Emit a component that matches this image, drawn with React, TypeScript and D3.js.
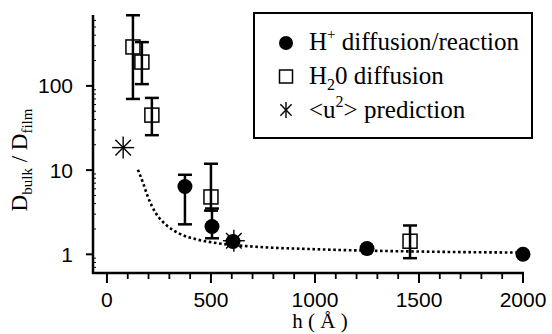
import React from "react";
import * as d3 from "d3";

// H2O diffusion (open squares)
const h2oH = [125, 168, 216, 500, 1457];
const h2oD = [290, 192, 45, 4.8, 1.43];
const h2oLo = [70, 105, 26, 3.3, 0.9];
const h2oHi = [690, 331, 72, 11.9, 2.2];

// H+ diffusion/reaction (filled circles)
const hpH = [375, 505, 606, 1250, 2000];
const hpD = [6.4, 2.14, 1.42, 1.17, 1.0];
const hpLo = [2.27, 1.55, 1.42, 1.17, 1.0];
const hpHi = [8.8, 3.5, 1.42, 1.17, 1.0];

// <u^2> prediction (stars)
const starH = [78, 610];
const starD = [18.5, 1.45];

// dotted prediction curve
const curveH = [149, 173, 197, 231, 288, 351, 433, 510, 591, 673, 736, 1000, 1216, 1490, 1750, 1971];
const curveD = [10.1, 7.1, 4.8, 3.2, 2.2, 1.75, 1.5, 1.38, 1.3, 1.25, 1.22, 1.15, 1.11, 1.08, 1.06, 1.05];

const xMajor = [0, 500, 1000, 1500, 2000];
const yMajor = [1, 10, 100];
const yMajorLabels = ["1", "10", "100"];

const W = 552, H = 334;

export default function App() {
  const x = d3.scaleLinear().domain([-67, 2000]).range([93, 523]);
  const y = d3.scaleLog().domain([0.6, 695]).range([273, 15]);

  const xMinor = d3.range(0, 2001, 100).filter((v) => v % 500 !== 0);
  const yMinor: number[] = [];
  [0.1, 1, 10, 100].forEach((dec) => {
    for (let k = 2; k <= 9; k++) {
      const v = dec * k;
      if (v >= 0.6 && v <= 695) yMinor.push(v);
    }
  });

  const line = d3
    .line<number>()
    .x((_, i) => x(curveH[i]))
    .y((d) => y(d))
    .curve(d3.curveMonotoneX);

  const serif = "'Liberation Serif', 'Times New Roman', serif";
  const sans = "'Liberation Sans', Arial, sans-serif";
  const capW = 7;

  const star = (cx: number, cy: number, r: number, key: string, angles = [0, 45, 90, 135]) => (
    <g key={key} stroke="#000" strokeWidth={1.4}>
      {angles.map((a) => {
        const rad = (a * Math.PI) / 180;
        return (
          <line
            key={a}
            x1={cx - r * Math.cos(rad)}
            y1={cy - r * Math.sin(rad)}
            x2={cx + r * Math.cos(rad)}
            y2={cy + r * Math.sin(rad)}
          />
        );
      })}
    </g>
  );

  const errBar = (xv: number, lo: number, hi: number, key: string) => {
    if (lo === hi) return null;
    const cx = x(xv);
    return (
      <g key={key} stroke="#000" strokeWidth={2.5}>
        <line x1={cx} x2={cx} y1={y(hi)} y2={y(lo)} />
        <line x1={cx - capW} x2={cx + capW} y1={y(hi)} y2={y(hi)} />
        <line x1={cx - capW} x2={cx + capW} y1={y(lo)} y2={y(lo)} />
      </g>
    );
  };

  return (
    <svg width={W} height={H} style={{ display: "block", position: "absolute", left: 0, top: 0, background: "#fff" }}>
      <rect x={0} y={0} width={W} height={H} fill="#fff" />
      {/* axes */}
      <line x1={93} x2={93} y1={y(695)} y2={274} stroke="#000" strokeWidth={2.5} />
      <line x1={92} x2={x(2000) + 1} y1={273} y2={273} stroke="#000" strokeWidth={2.5} />
      {xMajor.map((v) => (
        <g key={"xm" + v}>
          <line x1={x(v)} x2={x(v)} y1={273} y2={283} stroke="#000" strokeWidth={2} />
          <text x={x(v)} y={307} textAnchor="middle" fontFamily={sans} fontSize={21}>
            {v}
          </text>
        </g>
      ))}
      {xMinor.map((v) => (
        <line key={"xn" + v} x1={x(v)} x2={x(v)} y1={273} y2={279} stroke="#000" strokeWidth={1.8} />
      ))}
      {yMajor.map((v, i) => (
        <g key={"ym" + v}>
          <line x1={86} x2={93} y1={y(v)} y2={y(v)} stroke="#000" strokeWidth={2} />
          <text x={73} y={y(v)} dy="0.36em" textAnchor="end" fontFamily={sans} fontSize={21}>
            {yMajorLabels[i]}
          </text>
        </g>
      ))}
      {yMinor.map((v) => (
        <line key={"yn" + v} x1={93} x2={96} y1={y(v)} y2={y(v)} stroke="#000" strokeWidth={1} />
      ))}

      {/* axis labels */}
      <text x={320} y={328} textAnchor="middle" fontFamily={serif} fontSize={21}>
        h ( Å )
      </text>
      <text transform="translate(27,160) rotate(-90)" textAnchor="middle" fontFamily={serif} fontSize={23}>
        D<tspan fontSize={15} dy={5}>bulk</tspan>
        <tspan dy={-5}> / D</tspan>
        <tspan fontSize={15} dy={5}>film</tspan>
      </text>

      {/* curve */}
      <path d={line(curveD) || ""} fill="none" stroke="#000" strokeWidth={2.6} strokeDasharray="2.6 2.6" />

      {/* error bars */}
      {h2oH.map((v, i) => errBar(v, h2oLo[i], h2oHi[i], "he" + i))}
      {hpH.map((v, i) => errBar(v, hpLo[i], hpHi[i], "pe" + i))}

      {/* squares */}
      {h2oH.map((v, i) => (
        <rect
          key={"sq" + i}
          x={x(v) - 7}
          y={y(h2oD[i]) - 7}
          width={14}
          height={14}
          fill="none"
          stroke="#000"
          strokeWidth={1.5}
        />
      ))}
      {/* circles */}
      {hpH.map((v, i) => (
        <circle key={"c" + i} cx={x(v)} cy={y(hpD[i])} r={7.5} fill="#000" />
      ))}
      {/* stars */}
      {starH.map((v, i) => star(x(v), y(starD[i]), 11, "st" + i))}

      {/* legend */}
      <rect x={254} y={13} width={278} height={125} fill="#fff" stroke="#000" strokeWidth={2} />
      <circle cx={286} cy={43} r={7} fill="#000" />
      <rect x={279.5} y={70} width={13} height={13} fill="none" stroke="#000" strokeWidth={1.5} />
      {star(286, 110, 8, "lgst", [45, 90, 135])}
      <text x={309} y={50} fontFamily={serif} fontSize={25}>
        H<tspan fontSize={15} dy={-11}>+</tspan>
        <tspan dy={11}> diffusion/reaction</tspan>
      </text>
      <text x={309} y={84} fontFamily={serif} fontSize={25}>
        H<tspan fontSize={16} dy={6}>2</tspan>
        <tspan dy={-6}>0 diffusion</tspan>
      </text>
      <text x={309} y={118} fontFamily={serif} fontSize={25}>
        {"<u"}
        <tspan fontSize={16} dy={-11}>2</tspan>
        <tspan dy={11}>{"> prediction"}</tspan>
      </text>
    </svg>
  );
}
